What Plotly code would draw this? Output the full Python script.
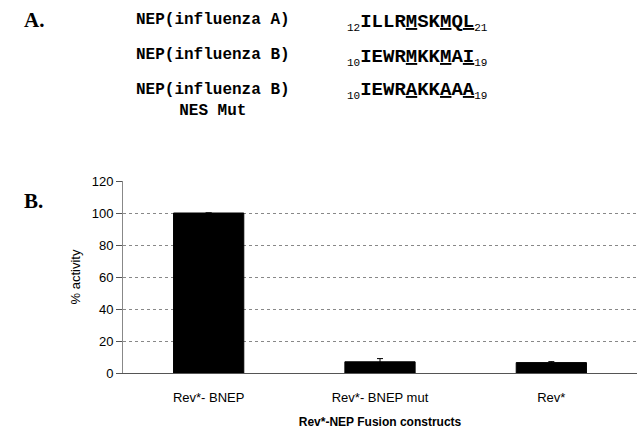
import plotly.graph_objects as go

categories = ["Rev*- BNEP", "Rev*- BNEP mut", "Rev*"]
activity = [100, 7, 6.5]
errors = [0, 2, 0.6]
y_ticks = [0, 20, 40, 60, 80, 100, 120]

nep_labels = ["NEP(influenza A)", "NEP(influenza B)", "NEP(influenza B)<br>NES Mut"]
sequences = [
    ("12", "ILLR<u>M</u>SK<u>M</u>Q<u>L</u>", "21"),
    ("10", "IEWR<u>M</u>KK<u>M</u>A<u>I</u>", "19"),
    ("10", "IEWR<u>A</u>KK<u>A</u>A<u>A</u>", "19"),
]

L, R, T, B = 123, 0, 181, 59
W, H = 637, 432
pw, ph = W - L - R, H - T - B

def px(x):
    return (x - L) / pw

def py(y):
    return (H - B - y) / ph

fig = go.Figure()
fig.add_trace(go.Bar(
    x=categories, y=activity,
    marker=dict(color="black", line=dict(color="black", width=1)),
    width=0.41,
    error_y=dict(type="data", array=errors, visible=True, color="black", thickness=1, width=3),
))

annotations = []
def ann(x, y, text, font, xanchor="left", align="left"):
    annotations.append(dict(x=px(x), y=py(y), xref="paper", yref="paper", text=text,
                            showarrow=False, xanchor=xanchor, yanchor="middle",
                            align=align, font=font))

ann(22, 20, "<b>A.</b>", dict(family="Liberation Serif", size=21, color="black"))
ann(22, 201, "<b>B.</b>", dict(family="Liberation Serif", size=21, color="black"))
label_y = [20, 55, 100]
for lab, yy in zip(nep_labels, label_y):
    ann(213, yy, "<b>" + lab + "</b>", dict(family="Liberation Mono", size=16, color="black"),
        xanchor="center", align="center")
seq_y = [22, 57, 90]
def small(t):
    return "<sub><span style='font-size:11px;color:black'>" + t + "</span></sub>"
for (s, seq, e), yy in zip(sequences, seq_y):
    ann(345, yy, small(s) + "<b>" + seq + "</b>" + small(e),
        dict(family="Liberation Mono", size=19, color="black"))

fig.update_layout(
    width=W, height=H,
    margin=dict(l=L, r=R, t=T, b=B),
    paper_bgcolor="white", plot_bgcolor="white",
    showlegend=False,
    annotations=annotations,
)
fig.update_xaxes(
    tickfont=dict(family="Liberation Sans", size=13, color="black"),
    title=dict(text="<b>Rev*-NEP Fusion constructs</b>", standoff=14,
               font=dict(family="Liberation Sans", size=12, color="black")),
    showline=True, linecolor="#555", linewidth=1, ticks="outside", ticklen=12, tickcolor="white",
)
fig.update_yaxes(
    range=[0, 120], tickvals=y_ticks,
    tickfont=dict(family="Liberation Sans", size=13, color="black"),
    title=dict(text="% activity", standoff=8,
               font=dict(family="Liberation Sans", size=13, color="black")),
    showgrid=True, gridcolor="#888", griddash="dot", gridwidth=1,
    showline=True, linecolor="#888", linewidth=1, ticks="outside", ticklen=6, tickcolor="#555",
    zeroline=False,
)
fig.write_html("out.html", config={"displayModeBar": False},
               post_script="document.body.style.margin='0';")
